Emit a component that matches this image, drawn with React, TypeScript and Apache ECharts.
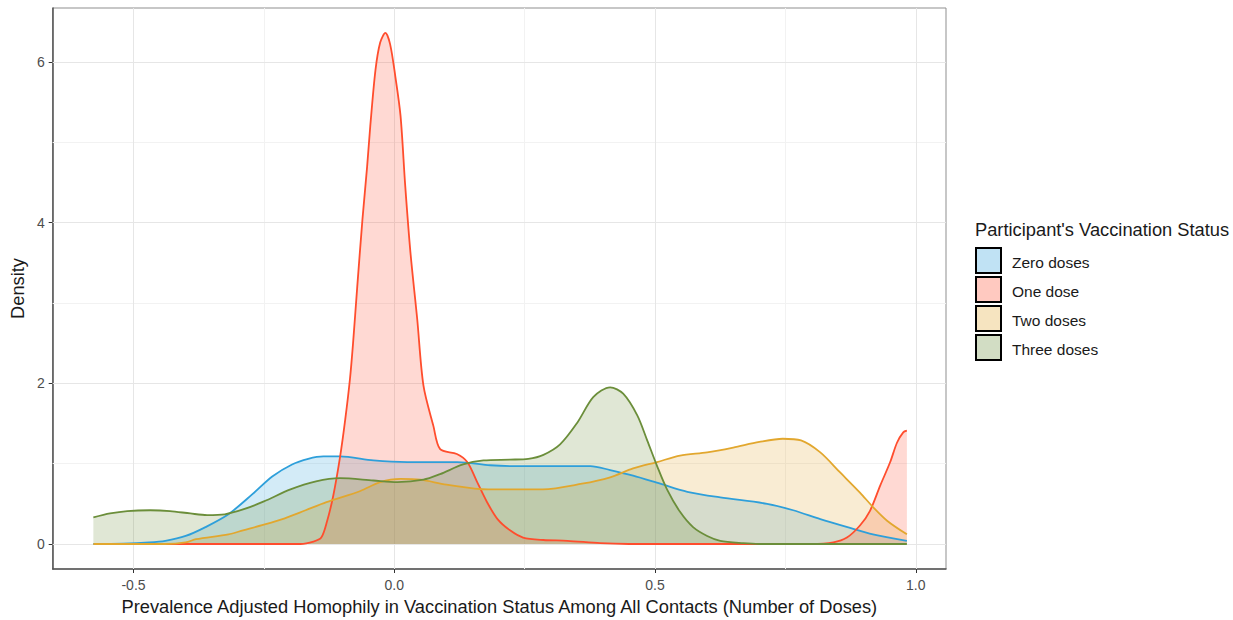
import React, { useEffect, useRef } from "react";
import * as echarts from "echarts";

// ---- data ----
const seriesNames = ["Zero doses", "One dose", "Two doses", "Three doses"];

const zeroX = [-0.577, -0.52, -0.47, -0.439, -0.4, -0.362, -0.318, -0.272, -0.234, -0.196, -0.165, -0.136, -0.104, -0.04, 0.025, 0.121, 0.184, 0.222, 0.3, 0.376, 0.414, 0.458, 0.51, 0.562, 0.625, 0.715, 0.765, 0.817, 0.869, 0.918, 0.983];
const zeroY = [0, 0.005, 0.02, 0.04, 0.1, 0.21, 0.37, 0.62, 0.84, 0.99, 1.06, 1.09, 1.09, 1.04, 1.02, 1.02, 0.98, 0.97, 0.97, 0.97, 0.92, 0.85, 0.75, 0.65, 0.58, 0.5, 0.42, 0.31, 0.21, 0.12, 0.04];

const oneX = [-0.44, -0.18, -0.155, -0.14, -0.129, -0.117, -0.104, -0.094, -0.085, -0.079, -0.071, -0.061, -0.052, -0.046, -0.036, -0.027, -0.017, -0.008, 0.002, 0.012, 0.021, 0.031, 0.044, 0.056, 0.075, 0.088, 0.12, 0.14, 0.159, 0.178, 0.198, 0.222, 0.247, 0.286, 0.332, 0.395, 0.45, 0.8, 0.842, 0.868, 0.893, 0.912, 0.932, 0.951, 0.964, 0.976, 0.983];
const oneY = [0, 0, 0.03, 0.08, 0.28, 0.6, 1.08, 1.55, 2.05, 2.5, 3.2, 4.04, 4.7, 5.2, 5.9, 6.24, 6.36, 6.22, 5.82, 5.33, 4.46, 3.63, 2.8, 1.97, 1.47, 1.18, 1.12, 1.02, 0.77, 0.52, 0.31, 0.17, 0.08, 0.05, 0.04, 0.01, 0, 0, 0.02, 0.08, 0.23, 0.41, 0.73, 1.02, 1.26, 1.39, 1.41];

const twoX = [-0.577, -0.44, -0.4, -0.38, -0.318, -0.29, -0.25, -0.21, -0.17, -0.13, -0.065, -0.027, 0.012, 0.05, 0.1, 0.18, 0.285, 0.36, 0.414, 0.458, 0.504, 0.548, 0.6, 0.65, 0.7, 0.745, 0.78, 0.817, 0.855, 0.893, 0.918, 0.945, 0.983];
const twoY = [0, 0, 0.02, 0.06, 0.12, 0.17, 0.24, 0.32, 0.42, 0.52, 0.66, 0.77, 0.81, 0.8, 0.74, 0.68, 0.68, 0.75, 0.83, 0.94, 1.02, 1.1, 1.14, 1.2, 1.27, 1.31, 1.29, 1.14, 0.89, 0.64, 0.46, 0.29, 0.12];

const threeX = [-0.577, -0.545, -0.512, -0.468, -0.43, -0.391, -0.359, -0.325, -0.29, -0.25, -0.199, -0.15, -0.104, -0.04, 0.006, 0.056, 0.088, 0.132, 0.171, 0.222, 0.257, 0.286, 0.318, 0.351, 0.382, 0.414, 0.439, 0.466, 0.485, 0.504, 0.523, 0.548, 0.573, 0.6, 0.625, 0.669, 0.7, 0.983];
const threeY = [0.33, 0.38, 0.41, 0.42, 0.41, 0.38, 0.36, 0.37, 0.43, 0.53, 0.68, 0.78, 0.82, 0.79, 0.77, 0.8, 0.87, 0.99, 1.04, 1.05, 1.06, 1.11, 1.24, 1.51, 1.83, 1.95, 1.87, 1.6, 1.29, 0.97, 0.68, 0.4, 0.21, 0.1, 0.04, 0.01, 0, 0];

const xTicks = [-0.5, 0, 0.5, 1.0];
const xMinorTicks = [-0.25, 0.25, 0.75];
const yTicks = [0, 2, 4, 6];
const yMinorTicks = [1, 3, 5];

const legendTitle = "Participant's Vaccination Status";
const xTitle = "Prevalence Adjusted Homophily in Vaccination Status Among All Contacts (Number of Doses)";
const yTitle = "Density";

// ---- styles ----
const colors = ["#2E9FDA", "#FF4D2D", "#E2A72E", "#6B8E3A"];
const FONT = "'Liberation Sans', Arial, sans-serif";

function rgba(hex: string, a: number) {
  const n = parseInt(hex.slice(1), 16);
  return `rgba(${(n >> 16) & 255},${(n >> 8) & 255},${n & 255},${a})`;
}

function pairs(xs: number[], ys: number[]) {
  return xs.map((x, i) => [x, ys[i]]);
}

export default function App() {
  const ref = useRef<HTMLDivElement>(null);

  useEffect(() => {
    if (!ref.current) return;
    const chart = echarts.init(ref.current, null, { renderer: "svg" });

    const allX = [zeroX, oneX, twoX, threeX];
    const allY = [zeroY, oneY, twoY, threeY];

    const densitySeries = seriesNames.map((name, i) => ({
      name,
      type: "line",
      data: pairs(allX[i], allY[i]),
      showSymbol: false,
      smooth: 0.3,
      z: 3,
      lineStyle: { color: colors[i], width: 1.8 },
      itemStyle: { color: colors[i] },
      areaStyle: { color: rgba(colors[i], 0.3), origin: 0 },
      silent: true,
    }));

    const gridLine = (axis: "xAxis" | "yAxis", v: number, major: boolean) => ({
      [axis]: v,
      lineStyle: { color: major ? "#E6E6E6" : "#F2F2F2", width: 1, type: "solid" },
    });

    const gridSeries = {
      name: "grid",
      type: "line",
      data: [],
      z: 1,
      silent: true,
      markLine: {
        z: 1,
        silent: true,
        symbol: ["none", "none"],
        label: { show: false },
        animation: false,
        data: [
          ...xMinorTicks.map((v) => gridLine("xAxis", v, false)),
          ...yMinorTicks.map((v) => gridLine("yAxis", v, false)),
          ...xTicks.map((v) => gridLine("xAxis", v, true)),
          ...yTicks.map((v) => gridLine("yAxis", v, true)),
        ],
      },
    };

    const legendGraphics: any[] = [
      {
        type: "text",
        x: 975,
        y: 229,
        style: { text: legendTitle, fontSize: 18.3, fontFamily: FONT, fill: "#1a1a1a", verticalAlign: "middle" },
      },
    ];
    seriesNames.forEach((name, i) => {
      legendGraphics.push({
        type: "rect",
        shape: { x: 976, y: 248 + i * 29, width: 25, height: 25 },
        style: { fill: rgba(colors[i], 0.3), stroke: "#000", lineWidth: 2 },
      });
      legendGraphics.push({
        type: "text",
        x: 1012,
        y: 262 + i * 29,
        style: { text: name, fontSize: 15.5, fontFamily: FONT, fill: "#1a1a1a", verticalAlign: "middle" },
      });
    });

    chart.setOption({
      animation: false,
      backgroundColor: "#ffffff",
      textStyle: { fontFamily: FONT },
      grid: {
        left: 52,
        right: 287,
        top: 8,
        bottom: 50,
        show: true,
        borderColor: "#8f8f8f",
        borderWidth: 1,
        backgroundColor: "transparent",
      },
      xAxis: {
        type: "value",
        min: -0.655,
        max: 1.058,
        name: xTitle,
        nameLocation: "middle",
        nameGap: 28,
        nameTextStyle: { fontSize: 18.3, color: "#1a1a1a", fontFamily: FONT },
        axisLine: { show: true, onZero: false, lineStyle: { color: "#555", width: 1.5 } },
        axisTick: { show: true, length: 4, customValues: xTicks, lineStyle: { color: "#333" } },
        axisLabel: {
          customValues: xTicks,
          fontSize: 14,
          color: "#4D4D4D",
          margin: 9,
          formatter: (v: number) => v.toFixed(1),
        },
        splitLine: { show: false },
      },
      yAxis: {
        type: "value",
        min: -0.311,
        max: 6.67,
        name: yTitle,
        nameLocation: "middle",
        nameGap: 19,
        nameRotate: 90,
        nameTextStyle: { fontSize: 18.3, color: "#1a1a1a", fontFamily: FONT },
        axisLine: { show: true, onZero: false, lineStyle: { color: "#555", width: 1.5 } },
        axisTick: { show: true, length: 4, customValues: yTicks, lineStyle: { color: "#333" } },
        axisLabel: {
          customValues: yTicks,
          fontSize: 14,
          color: "#4D4D4D",
          margin: 8,
          formatter: (v: number) => String(v),
        },
        splitLine: { show: false },
      },
      graphic: legendGraphics,
      series: [gridSeries, ...densitySeries],
    });

    return () => chart.dispose();
  }, []);

  return (
    <div
      ref={ref}
      style={{ position: "fixed", left: 0, top: 0, width: 1233, height: 620, background: "#fff" }}
    />
  );
}
